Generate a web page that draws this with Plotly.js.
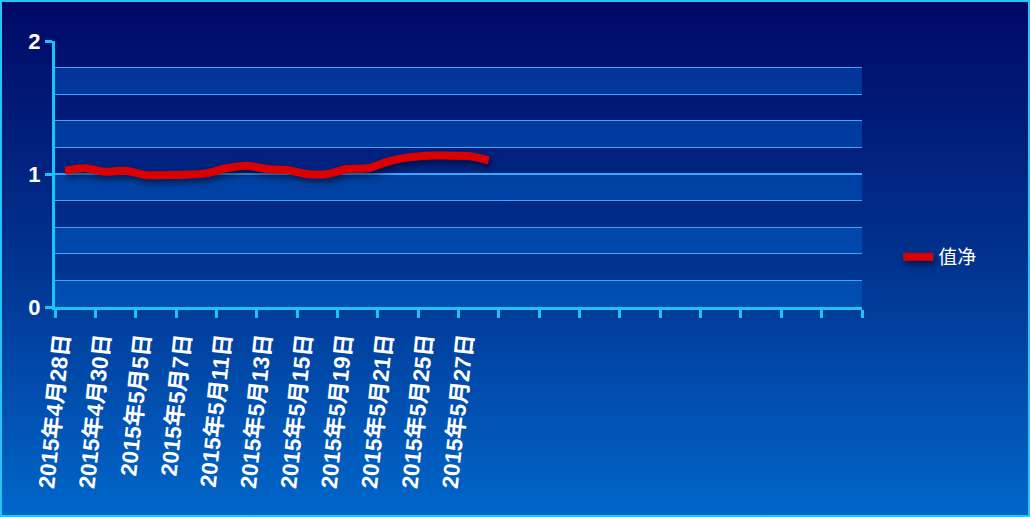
<!DOCTYPE html>
<html>
<head>
<meta charset="utf-8">
<script src="https://cdn.plot.ly/plotly-3.0.1.min.js"></script>
<style>
  html, body { margin: 0; padding: 0; }
  body { width: 1030px; height: 517px; overflow: hidden; }
  #wrap {
    position: relative; width: 1030px; height: 517px; box-sizing: border-box;
    border: 2px solid #22c6f2;
    background: linear-gradient(to bottom, #000866 0%, #01328f 50%, #0066c9 100%);
  }
  #chart { position: absolute; left: -2px; top: -2px; width: 1030px; height: 517px; }
  #chart .scatterlayer path.js-line { filter: drop-shadow(2px 4px 3px rgba(0,0,20,0.55)); }
  #chart .legend path.js-line { filter: drop-shadow(2px 4px 3px rgba(0,0,20,0.55)); }
</style>
</head>
<body>
<div id="wrap"><div id="chart"></div></div>
<script>
// Dates of the series (trading days)
const dates = [
  "2015年4月28日","2015年4月29日","2015年4月30日","2015年5月4日","2015年5月5日",
  "2015年5月6日","2015年5月7日","2015年5月8日","2015年5月11日","2015年5月12日",
  "2015年5月13日","2015年5月14日","2015年5月15日","2015年5月18日","2015年5月19日",
  "2015年5月20日","2015年5月21日","2015年5月22日","2015年5月25日","2015年5月26日",
  "2015年5月27日","2015年5月28日"
];
// Net value series
const netValue = [
  1.025, 1.043, 1.017, 1.025, 0.992, 0.992, 0.995, 1.005, 1.043, 1.062,
  1.038, 1.030, 1.000, 1.000, 1.038, 1.043, 1.093, 1.125, 1.138, 1.138,
  1.135, 1.103
];
const seriesName = "值净";
const totalSlots = 40;      // category slots on the axis
const labelEvery = 2;       // a tick / label every 2 categories
const yTickVals = [0, 1, 2];

const xIdx = dates.map((d, i) => i);

// tick positions at category boundaries
const tickVals = [];
const tickText = [];
for (let k = 0; k <= totalSlots; k += labelEvery) {
  tickVals.push(k - 0.5);
  tickText.push(k < dates.length ? dates[k] : "");
}

// alternating bands
const shapes = [];
for (let v = 0; v < 2; v += 0.4) {
  shapes.push({
    type: "rect", xref: "paper", yref: "y", x0: 0, x1: 1,
    y0: v, y1: v + 0.2, layer: "below", line: { width: 0 },
    fillcolor: "rgba(0,115,225,0.36)"
  });
}

const trace = {
  x: xIdx, y: netValue, type: "scatter", mode: "lines", name: seriesName,
  line: { color: "#dd0000", width: 8, shape: "spline", smoothing: 0.8 },
  hoverinfo: "skip"
};

const layout = {
  width: 1030, height: 517,
  paper_bgcolor: "rgba(0,0,0,0)", plot_bgcolor: "rgba(0,0,0,0)",
  margin: { l: 55, r: 168, t: 41, b: 210 },
  showlegend: true,
  legend: {
    x: 1.045, y: 0.188, xanchor: "left", yanchor: "middle",
    bgcolor: "rgba(0,0,0,0)",
    font: { family: "Noto Sans CJK SC, sans-serif", size: 19, color: "#ffffff" }
  },
  xaxis: {
    range: [-0.5, totalSlots - 0.5],
    tickmode: "array", tickvals: tickVals, ticktext: tickText,
    tickangle: -84, ticklabelshift: 4,
    ticks: "outside", ticklen: 8, tickwidth: 3, tickcolor: "#1cc4f6",
    showline: true, linecolor: "#1cc4f6", linewidth: 3,
    showgrid: false, zeroline: false,
    tickfont: { family: "Liberation Sans, Arial, Noto Sans CJK SC, sans-serif", size: 22.5, color: "#ffffff", weight: "bold" }
  },
  yaxis: {
    range: [0, 2], tickmode: "array", tickvals: yTickVals,
    ticks: "outside", ticklen: 7, tickwidth: 3, tickcolor: "#1cc4f6",
    showline: true, linecolor: "#1cc4f6", linewidth: 3,
    showgrid: true, gridcolor: "#3aa8f6", gridwidth: 1.2,
    minor: { dtick: 0.2, tick0: 0, showgrid: true, gridcolor: "#3aa8f6", gridwidth: 1.2, ticks: "" },
    zeroline: false,
    tickfont: { family: "Liberation Sans, Arial, sans-serif", size: 22, color: "#ffffff", weight: "bold" }
  },
  shapes: shapes
};

Plotly.newPlot("chart", [trace], layout, { displayModeBar: false, staticPlot: true });
</script>
</body>
</html>
